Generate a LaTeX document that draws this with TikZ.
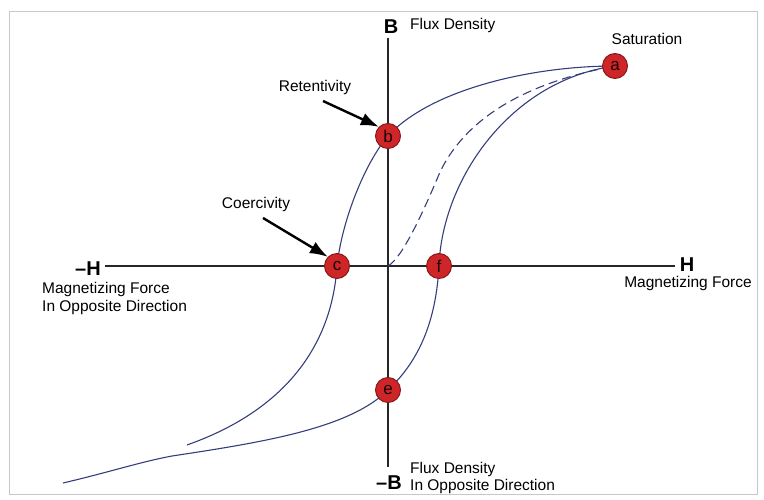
\documentclass[tikz,border=0pt]{standalone}
\usepackage{fontspec}
\setmainfont{Liberation Sans}
\usepackage{xcolor}
\usepackage{tikz}
\usetikzlibrary{arrows.meta}
\definecolor{loopblue}{RGB}{52, 62, 125}
\definecolor{dotred}{RGB}{206, 38, 40}
\definecolor{dotrim}{RGB}{130, 22, 22}
\definecolor{framegray}{RGB}{200, 200, 200}

\begin{document}
\begin{tikzpicture}[x=1pt,y=-1pt,
  lbl/.style={font=\fontsize{15.5}{17}\selectfont,inner sep=0pt},
  axlbl/.style={font=\fontsize{20}{22}\selectfont\bfseries,inner sep=0pt},
  dot/.style={circle,fill=dotred,draw=dotrim,line width=0.9pt,minimum size=25pt,inner sep=0pt,font=\fontsize{17}{17}\selectfont,text=black!80!dotrim},
  loop/.style={draw=loopblue,line width=1.1pt},
  pointer/.style={line width=2.4pt,-{Latex[length=18pt,width=13pt]}}]
  \useasboundingbox (0,0) rectangle (764,500);
  \draw[framegray,line width=1pt] (9,12) rectangle (757,494);

  % axes
  \coordinate (hneg) at (105,266);
  \coordinate (hpos) at (675,266);
  \coordinate (btop) at (388,38);
  \coordinate (bbot) at (388,467);
  \draw[line width=1.3pt,black!85] (hneg) -- (hpos);
  \draw[line width=1.3pt,black!85] (btop) -- (bbot);

  \node[axlbl] (bplus) at (391,27) {B};
  \node[lbl,anchor=west] (fluxup) at (410,25) {Flux Density};
  \node[axlbl] (bminus) at (389,483) {--B};
  \node[lbl,anchor=west] (fluxdn) at (410,469) {Flux Density};
  \node[lbl,anchor=west] (fluxdn2) at (410,486) {In Opposite Direction};
  \node[axlbl] (hplus) at (687,265) {H};
  \node[lbl] (magpos) at (688,283) {Magnetizing Force};
  \node[axlbl] (hminus) at (88,269) {--H};
  \node[lbl,anchor=west] (magneg) at (42,289) {Magnetizing Force};
  \node[lbl,anchor=west] (magneg2) at (42,307) {In Opposite Direction};

  % loop points
  \coordinate (pa) at (615,66);
  \coordinate (pb) at (388,136);
  \coordinate (pc) at (337,266);
  \coordinate (pe) at (388,390);
  \coordinate (pf) at (439,266);
  \coordinate (po) at (388,266);
  \coordinate (tailup) at (187,445);
  \coordinate (taildn) at (63,483);
  \coordinate (kink) at (172,456);
  \coordinate (bend) at (440,172);

  % hysteresis loop
  \draw[loop] (pa) .. controls (530,66) and (430,90) .. (pb)
    .. controls (365,163) and (342,220) .. (pc)
    .. controls (333,330) and (300,405) .. (tailup);
  \draw[loop] (taildn) .. controls (110,472) and (140,462) .. (kink)
    .. controls (265,442) and (350,428) .. (pe)
    .. controls (420,360) and (436,320) .. (pf)
    .. controls (442,180) and (510,80) .. (pa);
  \draw[loop,dash pattern=on 9pt off 5pt] (po) .. controls (402,258) and (422,215) .. (bend)
    .. controls (470,110) and (540,80) .. (pa);

  \node[dot] (a) at (pa) {a};
  \node[dot] (b) at (pb) {b};
  \node[dot] (c) at (pc) {c};
  \node[dot] (e) at (pe) {e};
  \node[dot] (f) at (pf) {f};

  \node[lbl] (sat) at (647,39) {Saturation};
  \node[lbl] (ret) at (315,87) {Retentivity};
  \node[lbl] (coe) at (256,204) {Coercivity};
  \coordinate (rettail) at (323,101);
  \coordinate (coetail) at (263,218);
  \draw[pointer] (rettail) -- (b.north west);
  \draw[pointer] (coetail) -- (c.north west);
\end{tikzpicture}
\end{document}
